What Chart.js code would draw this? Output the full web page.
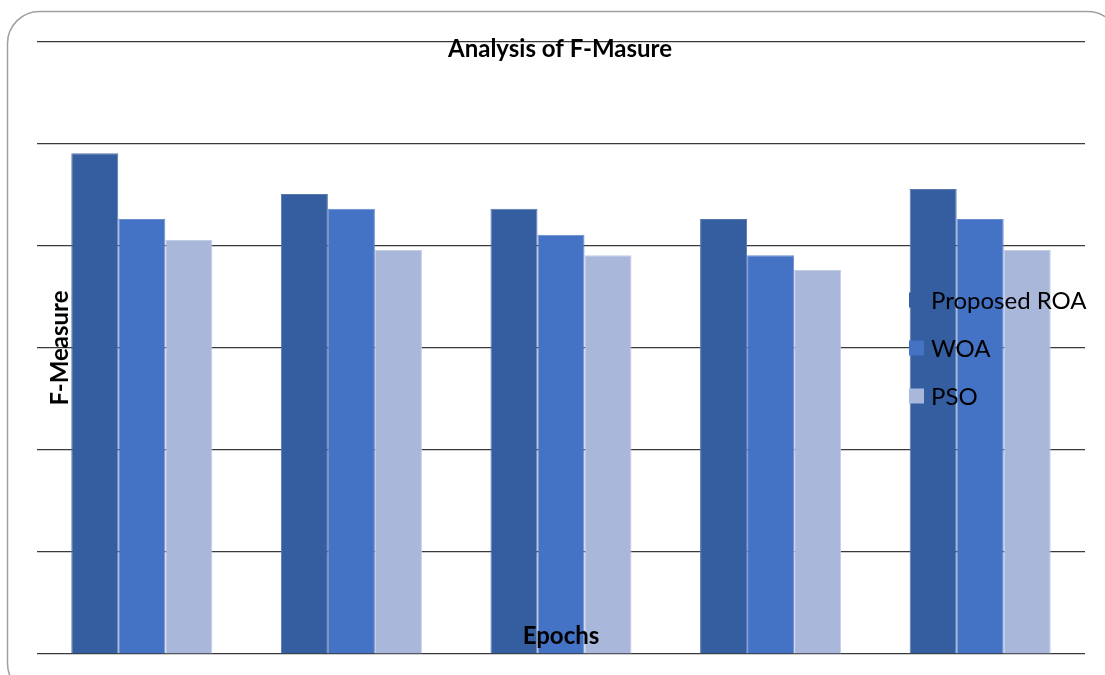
<!DOCTYPE html>
<html>
<head>
<meta charset="utf-8">
<script src="https://cdn.jsdelivr.net/npm/chart.js@4.4.1/dist/chart.umd.min.js"></script>
<style>
  html, body { margin: 0; padding: 0; background: #ffffff; }
  #wrap { width: 1105px; height: 675px; position: relative; }
</style>
</head>
<body>
<div id="wrap"><canvas id="c" width="1105" height="675"></canvas></div>
<script>
// Epoch groups along the x axis (labels are not printed on the axis)
const categories = ['1', '2', '3', '4', '5'];

// F-Measure per method
const proposedROA = [0.982, 0.902, 0.873, 0.853, 0.912];
const woa         = [0.853, 0.873, 0.822, 0.782, 0.853];
const pso         = [0.812, 0.792, 0.782, 0.753, 0.792];

const seriesNames = ['Proposed ROA', 'WOA', 'PSO'];
const seriesColors = ['#355EA0', '#4472C4', '#A9B7DB'];
const seriesEdges  = ['#5677B0', '#6A8DCF', '#C2CDE6'];

// Axis range (gridlines every 0.2, tick labels hidden)
const yMin = 0, yMax = 1.2, yStep = 0.2;

const FONT = 'Lato, "Liberation Sans", sans-serif';

// Decorations: outer rounded frame, titles and the floating legend
const decor = {
  id: 'decor',
  beforeDraw(chart) {
    const ctx = chart.ctx;
    ctx.save();
    ctx.fillStyle = '#ffffff';
    ctx.fillRect(0, 0, chart.width, chart.height);
    ctx.strokeStyle = '#a0a0a0';
    ctx.lineWidth = 1.5;
    ctx.beginPath();
    ctx.roundRect(7.5, 11.5, 1112, 684, 32);
    ctx.stroke();
    ctx.restore();
  },
  afterDraw(chart) {
    const ctx = chart.ctx;
    ctx.save();
    ctx.fillStyle = '#000000';
    ctx.textAlign = 'center';
    ctx.textBaseline = 'alphabetic';

    // chart title
    ctx.font = 'bold 24px ' + FONT;
    ctx.fillText('Analysis of F-Masure', 560, 57);

    // x axis title
    ctx.fillText('Epochs', 561, 644);

    // y axis title
    ctx.save();
    ctx.translate(68, 348);
    ctx.rotate(-Math.PI / 2);
    ctx.fillText('F-Measure', 0, 0);
    ctx.restore();

    // legend
    ctx.textAlign = 'left';
    ctx.textBaseline = 'middle';
    ctx.font = '24px ' + FONT;
    const rows = [300, 348, 396];
    seriesNames.forEach((name, i) => {
      const y = rows[i];
      ctx.fillStyle = seriesColors[i];
      ctx.fillRect(909, y - 7.5, 15, 15);
      ctx.fillStyle = '#000000';
      ctx.fillText(name, 931, y + 1);
    });
    ctx.restore();
  }
};

const datasets = [proposedROA, woa, pso].map((vals, i) => ({
  label: seriesNames[i],
  data: vals,
  backgroundColor: seriesColors[i],
  borderColor: seriesEdges[i],
  borderWidth: 1,
  borderSkipped: 'bottom'
}));

new Chart(document.getElementById('c'), {
  type: 'bar',
  data: { labels: categories, datasets },
  plugins: [decor],
  options: {
    responsive: false,
    animation: false,
    events: [],
    layout: { padding: { left: 37, right: 20, top: 42, bottom: 21 } },
    datasets: { bar: { categoryPercentage: 0.673, barPercentage: 1.0 } },
    plugins: { legend: { display: false }, title: { display: false }, tooltip: { enabled: false } },
    scales: {
      x: {
        grid: { display: false, drawTicks: false },
        border: { display: false },
        ticks: { display: false }
      },
      y: {
        min: yMin,
        max: yMax,
        grid: { color: '#3a3a3a', lineWidth: 1.2, drawTicks: false },
        border: { display: false },
        ticks: { display: false, stepSize: yStep }
      }
    }
  }
});
</script>
</body>
</html>
